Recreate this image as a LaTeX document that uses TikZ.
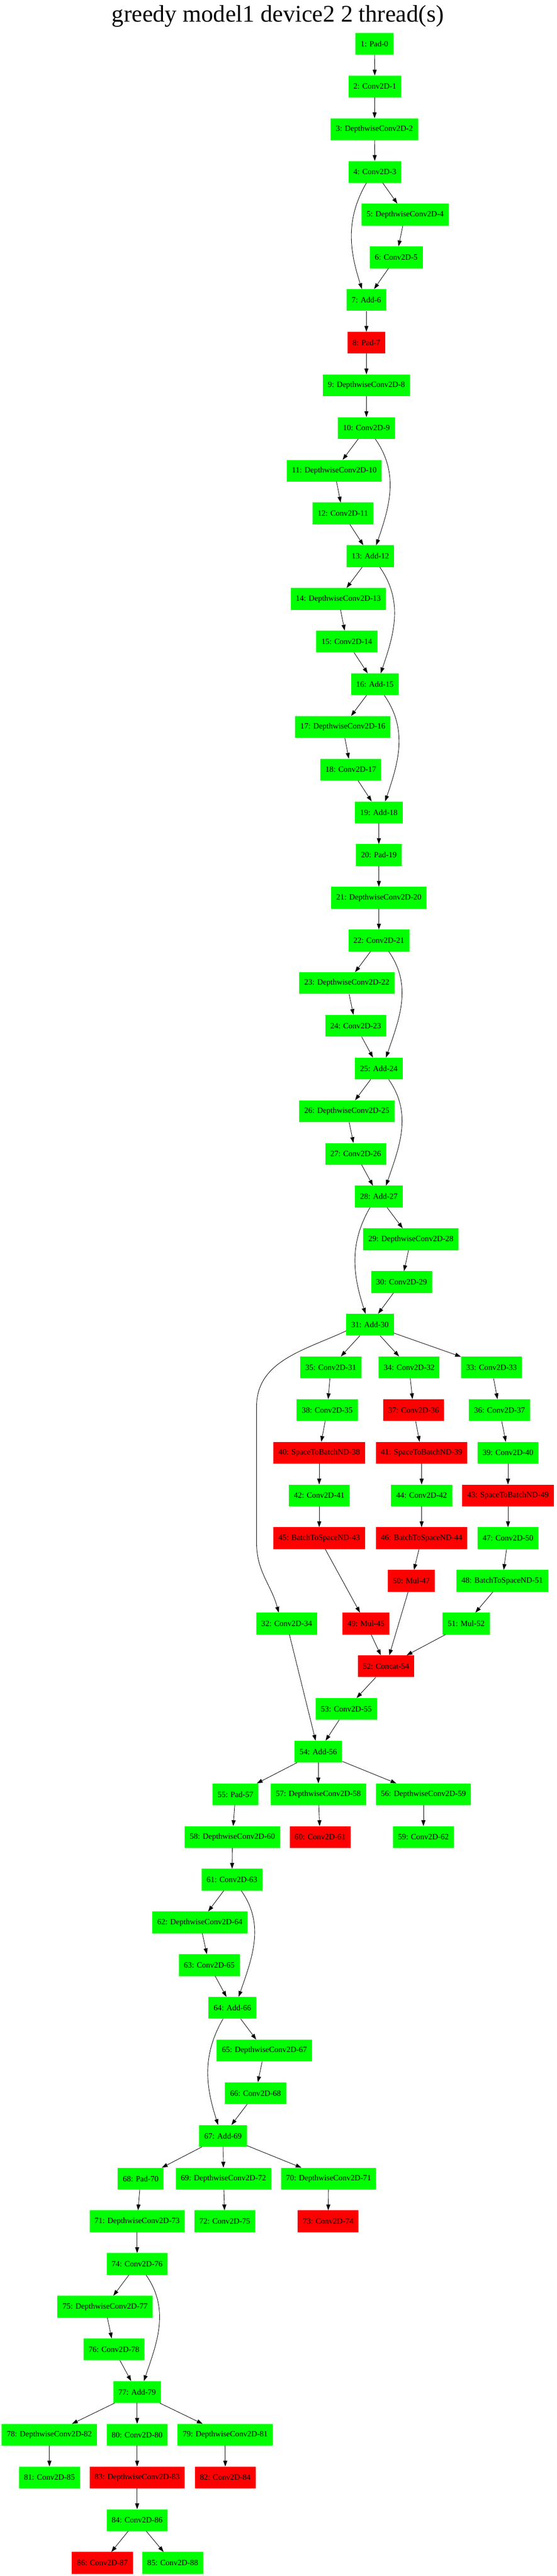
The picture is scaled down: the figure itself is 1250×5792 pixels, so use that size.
\documentclass[tikz,border=0pt]{standalone}
\usepackage{fontspec}
\setmainfont{Liberation Serif}
\usetikzlibrary{arrows.meta}

\begin{document}
\begin{tikzpicture}[
        x=1pt, y=1pt,
        >={Triangle[length=13pt,width=9pt]},
        every node/.style={align=center},
        op/.style={rectangle, minimum height=49pt, inner xsep=11.5pt, inner ysep=0pt, font=\fontsize{18}{20}\selectfont},
        okop/.style={op, fill=green},
        badop/.style={op, fill=red},
        line/.style={->, line width=1pt},
        skipr/.style={line, out=-55, in=71},
        skipl/.style={line, out=-120, in=108},
    ]
    \useasboundingbox (0,0) rectangle (1250,-5792);
    % Title
    \node[anchor=base, font=\fontsize{53.7}{60}\selectfont] (title) at (624,-49.3) {greedy model1 device2 2 thread(s)};
    % Nodes
    \node[okop] (Pad0) at (841,-98.5) {1: Pad-0};
    \node[okop] (Conv1) at (842,-194.5) {2: Conv2D-1};
    \node[okop] (DW2) at (841,-290.5) {3: DepthwiseConv2D-2};
    \node[okop] (Conv3) at (842,-386.5) {4: Conv2D-3};
    \node[okop] (DW4) at (910,-482.5) {5: DepthwiseConv2D-4};
    \node[okop] (Conv5) at (890,-578.5) {6: Conv2D-5};
    \node[okop] (Add6) at (823,-674.5) {7: Add-6};
    \node[badop] (Pad7) at (823,-770.5) {8: Pad-7};
    \node[okop] (DW8) at (823,-866.5) {9: DepthwiseConv2D-8};
    \node[okop] (Conv9) at (823,-962.5) {10: Conv2D-9};
    \node[okop] (DW10) at (751,-1058.5) {11: DepthwiseConv2D-10};
    \node[okop] (Conv11) at (770,-1154.5) {12: Conv2D-11};
    \node[okop] (Add12) at (832,-1250.5) {13: Add-12};
    \node[okop] (DW13) at (760,-1346.5) {14: DepthwiseConv2D-13};
    \node[okop] (Conv14) at (779,-1442.5) {15: Conv2D-14};
    \node[okop] (Add15) at (842,-1538.5) {16: Add-15};
    \node[okop] (DW16) at (770,-1634.5) {17: DepthwiseConv2D-16};
    \node[okop] (Conv17) at (788,-1730.5) {18: Conv2D-17};
    \node[okop] (Add18) at (851,-1826.5) {19: Add-18};
    \node[okop] (Pad19) at (851,-1922.5) {20: Pad-19};
    \node[okop] (DW20) at (851,-2018.5) {21: DepthwiseConv2D-20};
    \node[okop] (Conv21) at (851,-2114.5) {22: Conv2D-21};
    \node[okop] (DW22) at (779,-2210.5) {23: DepthwiseConv2D-22};
    \node[okop] (Conv23) at (799,-2306.5) {24: Conv2D-23};
    \node[okop] (Add24) at (851,-2402.5) {25: Add-24};
    \node[okop] (DW25) at (779,-2498.5) {26: DepthwiseConv2D-25};
    \node[okop] (Conv26) at (799,-2594.5) {27: Conv2D-26};
    \node[okop] (Add27) at (851,-2690.5) {28: Add-27};
    \node[okop] (DW28) at (923,-2786.5) {29: DepthwiseConv2D-28};
    \node[okop] (Conv29) at (902,-2882.5) {30: Conv2D-29};
    \node[okop] (Add30) at (831,-2978.5) {31: Add-30};
    \node[okop] (Conv31) at (743,-3074.5) {35: Conv2D-31};
    \node[okop] (Conv32) at (919,-3074.5) {34: Conv2D-32};
    \node[okop] (Conv33) at (1104,-3074.5) {33: Conv2D-33};
    \node[okop] (Conv35) at (735,-3170.5) {38: Conv2D-35};
    \node[badop] (Conv36) at (929,-3170.5) {37: Conv2D-36};
    \node[okop] (Conv37) at (1122,-3170.5) {36: Conv2D-37};
    \node[badop] (SB38) at (717,-3266.5) {40: SpaceToBatchND-38};
    \node[badop] (SB39) at (947,-3266.5) {41: SpaceToBatchND-39};
    \node[okop] (Conv40) at (1141,-3266.5) {39: Conv2D-40};
    \node[okop] (Conv41) at (717,-3362.5) {42: Conv2D-41};
    \node[okop] (Conv42) at (947,-3362.5) {44: Conv2D-42};
    \node[badop] (SB49) at (1141,-3362.5) {43: SpaceToBatchND-49};
    \node[badop] (BS43) at (717,-3458.5) {45: BatchToSpaceND-43};
    \node[badop] (BS44) at (947,-3458.5) {46: BatchToSpaceND-44};
    \node[okop] (Conv50) at (1141,-3458.5) {47: Conv2D-50};
    \node[badop] (Mul47) at (924,-3554.5) {50: Mul-47};
    \node[okop] (BS51) at (1128,-3554.5) {48: BatchToSpaceND-51};
    \node[okop] (Conv34) at (644,-3650.5) {32: Conv2D-34};
    \node[badop] (Mul45) at (822,-3650.5) {49: Mul-45};
    \node[okop] (Mul52) at (1047,-3650.5) {51: Mul-52};
    \node[badop] (Cat54) at (867,-3746.5) {52: Concat-54};
    \node[okop] (Conv55) at (778,-3842.5) {53: Conv2D-55};
    \node[okop] (Add56) at (715,-3938.5) {54: Add-56};
    \node[okop] (Pad57) at (529,-4034.5) {55: Pad-57};
    \node[okop] (DW58) at (715,-4034.5) {57: DepthwiseConv2D-58};
    \node[okop] (DW59) at (951,-4034.5) {56: DepthwiseConv2D-59};
    \node[okop] (DW60) at (522,-4130.5) {58: DepthwiseConv2D-60};
    \node[badop] (Conv61) at (719,-4130.5) {60: Conv2D-61};
    \node[okop] (Conv62) at (951,-4130.5) {59: Conv2D-62};
    \node[okop] (Conv63) at (521,-4226.5) {61: Conv2D-63};
    \node[okop] (DW64) at (449,-4322.5) {62: DepthwiseConv2D-64};
    \node[okop] (Conv65) at (470,-4418.5) {63: Conv2D-65};
    \node[okop] (Add66) at (522,-4514.5) {64: Add-66};
    \node[okop] (DW67) at (594,-4610.5) {65: DepthwiseConv2D-67};
    \node[okop] (Conv68) at (574,-4706.5) {66: Conv2D-68};
    \node[okop] (Add69) at (501,-4802.5) {67: Add-69};
    \node[okop] (Pad70) at (316,-4898.5) {68: Pad-70};
    \node[okop] (DW72) at (502,-4898.5) {69: DepthwiseConv2D-72};
    \node[okop] (DW71) at (738,-4898.5) {70: DepthwiseConv2D-71};
    \node[okop] (DW73) at (308,-4994.5) {71: DepthwiseConv2D-73};
    \node[okop] (Conv75) at (505,-4994.5) {72: Conv2D-75};
    \node[badop] (Conv74) at (737,-4994.5) {73: Conv2D-74};
    \node[okop] (Conv76) at (308,-5090.5) {74: Conv2D-76};
    \node[okop] (DW77) at (236,-5186.5) {75: DepthwiseConv2D-77};
    \node[okop] (Conv78) at (256,-5282.5) {76: Conv2D-78};
    \node[okop] (Add79) at (308,-5378.5) {77: Add-79};
    \node[okop] (DW82) at (111,-5474.5) {78: DepthwiseConv2D-82};
    \node[okop] (Conv80) at (308,-5474.5) {80: Conv2D-80};
    \node[okop] (DW81) at (506,-5474.5) {79: DepthwiseConv2D-81};
    \node[okop] (Conv85) at (111,-5570.5) {81: Conv2D-85};
    \node[badop] (DW83) at (308,-5570.5) {83: DepthwiseConv2D-83};
    \node[badop] (Conv84) at (506,-5570.5) {82: Conv2D-84};
    \node[okop] (Conv86) at (308,-5666.5) {84: Conv2D-86};
    \node[badop] (Conv87) at (230,-5762.5) {86: Conv2D-87};
    \node[okop] (Conv88) at (388,-5762.5) {85: Conv2D-88};
    % Arrows
    \draw[line] (Pad0) -- (Conv1);
    \draw[line] (Conv1) -- (DW2);
    \draw[line] (DW2) -- (Conv3);
    \draw[line] (Conv3) -- (DW4);
    \draw[line] (DW4) -- (Conv5);
    \draw[line] (Conv5) -- (Add6);
    \draw[skipl] ([xshift=-19pt]Conv3.south) to ([xshift=-10pt]Add6.north);
    \draw[line] (Add6) -- (Pad7);
    \draw[line] (Pad7) -- (DW8);
    \draw[line] (DW8) -- (Conv9);
    \draw[line] (Conv9) -- (DW10);
    \draw[line] (DW10) -- (Conv11);
    \draw[line] (Conv11) -- (Add12);
    \draw[skipr] ([xshift=20pt]Conv9.south) to ([xshift=13pt]Add12.north);
    \draw[line] (Add12) -- (DW13);
    \draw[line] (DW13) -- (Conv14);
    \draw[line] (Conv14) -- (Add15);
    \draw[skipr] ([xshift=21pt]Add12.south) to ([xshift=13pt]Add15.north);
    \draw[line] (Add15) -- (DW16);
    \draw[line] (DW16) -- (Conv17);
    \draw[line] (Conv17) -- (Add18);
    \draw[skipr] ([xshift=21pt]Add15.south) to ([xshift=14pt]Add18.north);
    \draw[line] (Add18) -- (Pad19);
    \draw[line] (Pad19) -- (DW20);
    \draw[line] (DW20) -- (Conv21);
    \draw[line] (Conv21) -- (DW22);
    \draw[line] (DW22) -- (Conv23);
    \draw[line] (Conv23) -- (Add24);
    \draw[skipr] ([xshift=22pt]Conv21.south) to ([xshift=16pt]Add24.north);
    \draw[line] (Add24) -- (DW25);
    \draw[line] (DW25) -- (Conv26);
    \draw[line] (Conv26) -- (Add27);
    \draw[skipr] ([xshift=22pt]Add24.south) to ([xshift=16pt]Add27.north);
    \draw[line] (Add27) -- (DW28);
    \draw[line] (DW28) -- (Conv29);
    \draw[line] (Conv29) -- (Add30);
    \draw[skipl] ([xshift=-20pt]Add27.south) to ([xshift=-10pt]Add30.north);
    \draw[line] (Add30) -- (Conv31);
    \draw[line] (Add30) -- (Conv32);
    \draw[line] (Add30) -- (Conv33);
    \draw[line] ([yshift=-14pt]Add30.west) to[out=-155, in=90] ++(-201,-170) -- ++(0,-307) to[out=-90, in=105] ([xshift=-18pt]Conv34.north);
    \draw[line] (Conv31) -- (Conv35);
    \draw[line] (Conv35) -- (SB38);
    \draw[line] (SB38) -- (Conv41);
    \draw[line] (Conv41) -- (BS43);
    \draw[line] (BS43) -- (Mul45);
    \draw[line] (Conv32) -- (Conv36);
    \draw[line] (Conv36) -- (SB39);
    \draw[line] (SB39) -- (Conv42);
    \draw[line] (Conv42) -- (BS44);
    \draw[line] (BS44) -- (Mul47);
    \draw[line] (Mul47) -- (Cat54);
    \draw[line] (Conv33) -- (Conv37);
    \draw[line] (Conv37) -- (Conv40);
    \draw[line] (Conv40) -- (SB49);
    \draw[line] (SB49) -- (Conv50);
    \draw[line] (Conv50) -- (BS51);
    \draw[line] (BS51) -- (Mul52);
    \draw[line] (Mul45) -- (Cat54);
    \draw[line] (Mul52) -- (Cat54);
    \draw[line] (Cat54) -- (Conv55);
    \draw[line] (Conv55) -- (Add56);
    \draw[line] (Conv34) -- (Add56);
    \draw[line] (Add56) -- (Pad57);
    \draw[line] (Add56) -- (DW58);
    \draw[line] (Add56) -- (DW59);
    \draw[line] (Pad57) -- (DW60);
    \draw[line] (DW58) -- (Conv61);
    \draw[line] (DW59) -- (Conv62);
    \draw[line] (DW60) -- (Conv63);
    \draw[line] (Conv63) -- (DW64);
    \draw[line] (DW64) -- (Conv65);
    \draw[line] (Conv65) -- (Add66);
    \draw[skipr] ([xshift=21pt]Conv63.south) to ([xshift=14pt]Add66.north);
    \draw[line] (Add66) -- (DW67);
    \draw[line] (DW67) -- (Conv68);
    \draw[line] (Conv68) -- (Add69);
    \draw[skipl] ([xshift=-21pt]Add66.south) to ([xshift=-11pt]Add69.north);
    \draw[line] (Add69) -- (Pad70);
    \draw[line] (Add69) -- (DW72);
    \draw[line] (Add69) -- (DW71);
    \draw[line] (Pad70) -- (DW73);
    \draw[line] (DW72) -- (Conv75);
    \draw[line] (DW71) -- (Conv74);
    \draw[line] (DW73) -- (Conv76);
    \draw[line] (Conv76) -- (DW77);
    \draw[line] (DW77) -- (Conv78);
    \draw[line] (Conv78) -- (Add79);
    \draw[skipr] ([xshift=20pt]Conv76.south) to ([xshift=15pt]Add79.north);
    \draw[line] (Add79) -- (DW82);
    \draw[line] (Add79) -- (Conv80);
    \draw[line] (Add79) -- (DW81);
    \draw[line] (DW82) -- (Conv85);
    \draw[line] (Conv80) -- (DW83);
    \draw[line] (DW81) -- (Conv84);
    \draw[line] (DW83) -- (Conv86);
    \draw[line] (Conv86) -- (Conv87);
    \draw[line] (Conv86) -- (Conv88);
\end{tikzpicture}
\end{document}
